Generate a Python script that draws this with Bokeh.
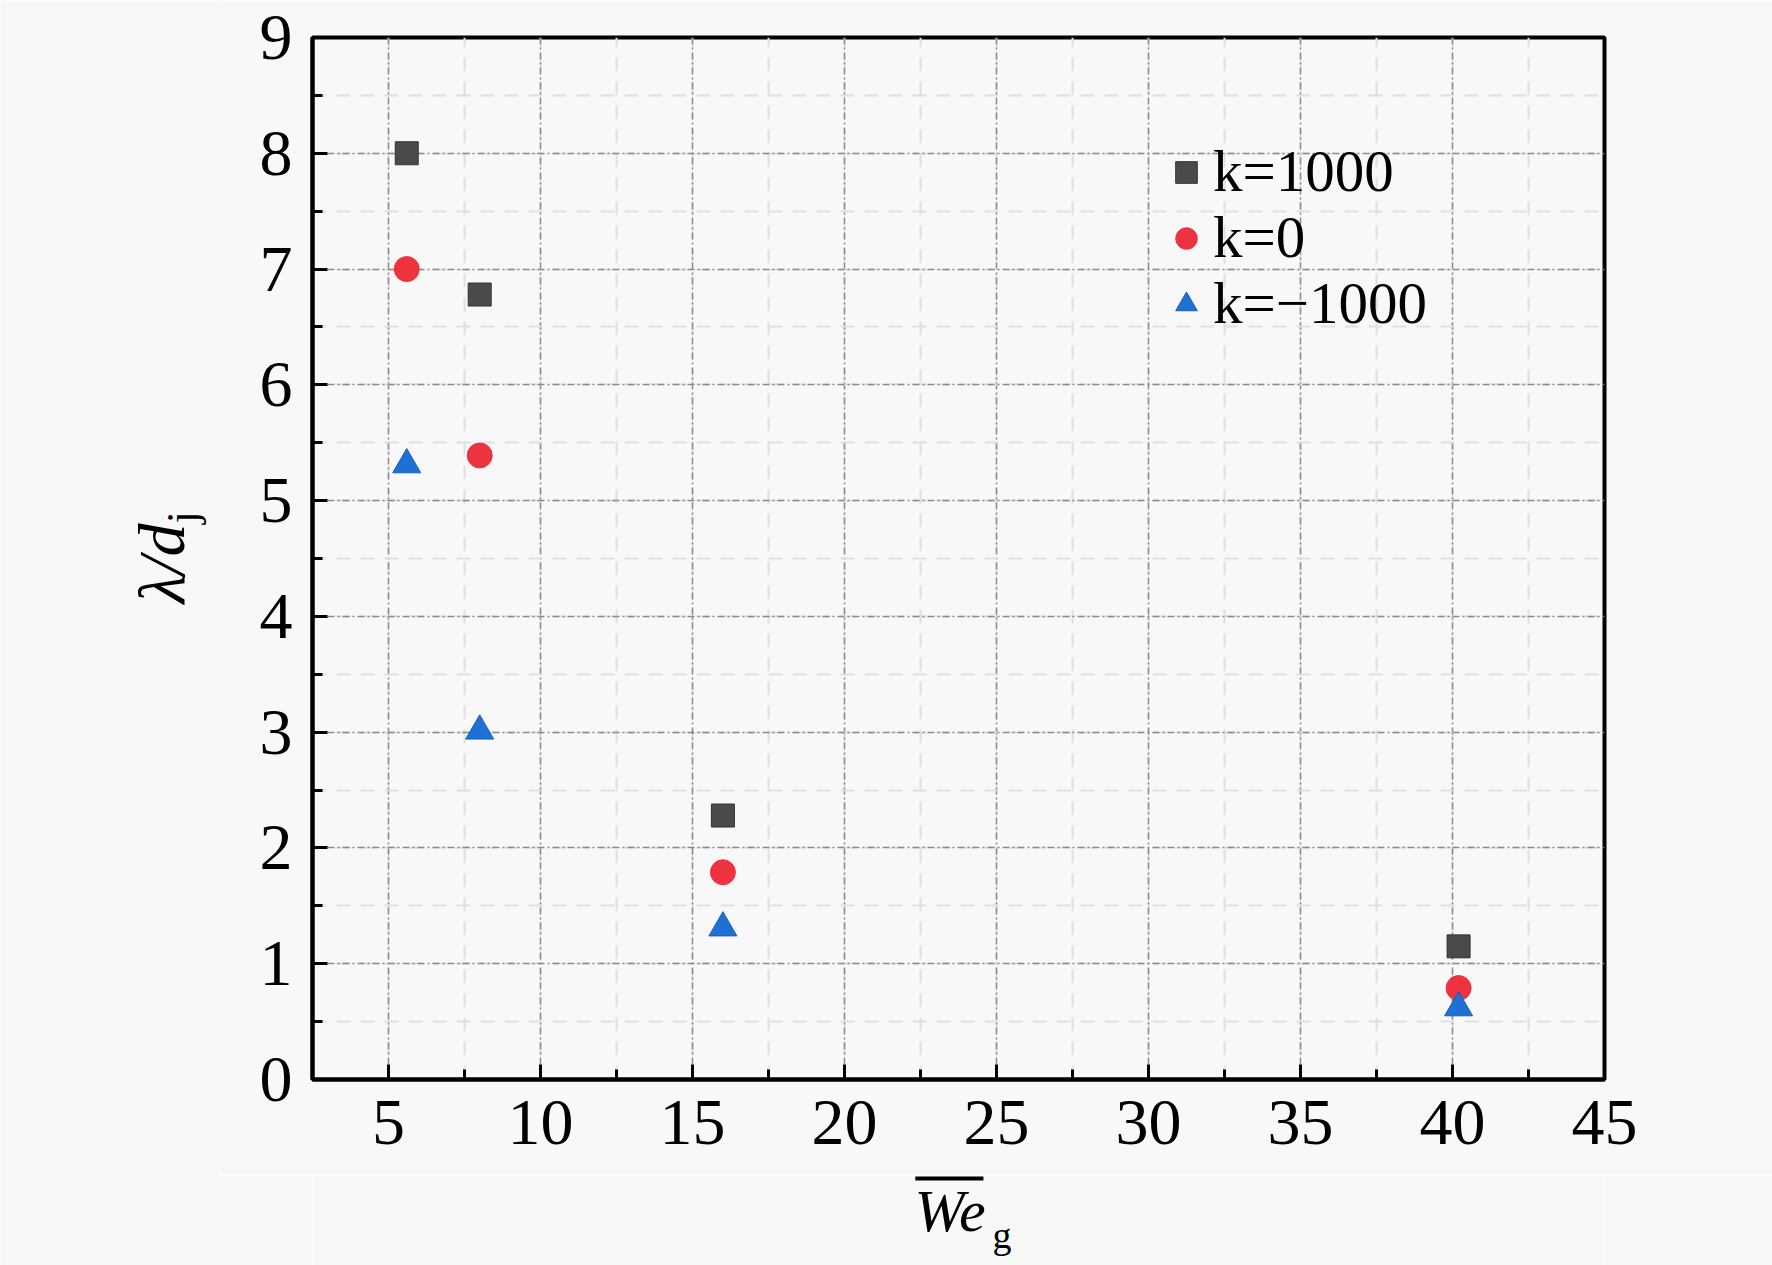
import math
from bokeh.plotting import figure
from bokeh.layouts import row, column
from bokeh.models import Legend, LegendItem, SingleIntervalTicker, Range1d
from bokeh.core.properties import value
from bokeh.embed import file_html
from bokeh.resources import INLINE

# ---- data ----
we_g = [5.6, 8.0, 16.0, 40.2]
k_pos = [8.0, 6.78, 2.28, 1.15]      # k = 1000
k_zero = [7.0, 5.39, 1.79, 0.79]     # k = 0
k_neg = [5.31, 3.01, 1.31, 0.62]     # k = -1000
series_labels = ["k=1000", "k=0", "k=\u22121000"]
x_ticks_interval = 5
y_ticks_interval = 1

FONT = "Liberation Serif"
BG = "#f8f8f8"
TICK_FS = "66px"
LEGEND_FS = "59px"

xr = Range1d(2.5, 45)

# ---------------- main chart ----------------
p = figure(width=1552, height=1175, output_backend="svg", toolbar_location=None,
           title=None, x_range=xr, y_range=Range1d(0, 9),
           min_border_left=92, min_border_right=168, min_border_top=37,
           min_border_bottom=96, background_fill_color=BG, border_fill_color=BG)

p.outline_line_color = "black"
p.outline_line_width = 4

p.xaxis.ticker = SingleIntervalTicker(interval=x_ticks_interval, num_minor_ticks=2)
p.yaxis.ticker = SingleIntervalTicker(interval=y_ticks_interval, num_minor_ticks=2)

for ax in (p.xaxis, p.yaxis):
    ax.axis_line_width = 4
    ax.axis_line_color = "black"
    ax.major_tick_in = 15
    ax.major_tick_out = 0
    ax.minor_tick_in = 10
    ax.minor_tick_out = 0
    ax.major_tick_line_width = 3
    ax.minor_tick_line_width = 3
    ax.major_tick_line_color = "black"
    ax.minor_tick_line_color = "black"
    ax.major_label_text_font = FONT
    ax.major_label_text_font_size = TICK_FS
    ax.major_label_text_color = "black"
p.xaxis.major_label_standoff = 21
p.yaxis.major_label_standoff = 20

for g in (p.xgrid, p.ygrid):
    g.grid_line_color = "#8a8a8a"
    g.grid_line_width = 1.5
    g.grid_line_dash = "7 3 2 3"
    g.minor_grid_line_color = "#e0e0e0"
    g.minor_grid_line_width = 2
    g.minor_grid_line_dash = "14 10"

r1 = p.scatter(we_g, k_pos, marker="square", size=23, fill_color="#4a4a4a",
               line_color="#333333", line_width=1)
r2 = p.scatter(we_g, k_zero, marker="circle", size=25, fill_color="#ee3340",
               line_color="#ee3340", line_width=1)
r3 = p.scatter(we_g, k_neg, marker="triangle", size=28, fill_color="#1f70d4",
               line_color="#1a5fb8", line_width=1)

# one legend box per entry, so the rows can sit as close as in the reference
legend_rows = [(series_labels[0], r1, 873), (series_labels[1], r2, 807),
               (series_labels[2], r3, 741)]
for lab, rend, ypos in legend_rows:
    lg = Legend(items=[LegendItem(label=lab, renderers=[rend])],
                location=(847, ypos), orientation="vertical",
                label_text_font=FONT, label_text_font_size=LEGEND_FS,
                label_text_color="black",
                glyph_width=54, glyph_height=60, label_standoff=0,
                spacing=0, padding=0, margin=0,
                border_line_color=None, background_fill_alpha=0)
    p.add_layout(lg)


def text_panel(w, h, x_range):
    f = figure(width=w, height=h, output_backend="svg", toolbar_location=None,
               title=None, x_range=x_range, y_range=Range1d(0, h),
               x_axis_type=None, y_axis_type=None, min_border=0,
               background_fill_color=BG, border_fill_color=BG)
    f.outline_line_color = None
    f.grid.visible = False
    return f


# ---------------- x-axis title: overline We, subscript g ----------------
# (this panel shares the x range of the chart, so its x positions are in We_g units)
xl = text_panel(1552, 90, xr)
xl.text(x=[22.3], y=[55], text=["We"], text_font=value(FONT),
        text_font_style="italic", text_font_size=value("60px"),
        text_align="left", text_baseline="middle", text_color="black")
xl.text(x=[24.87], y=[31], text=["g"], text_font=value(FONT),
        text_font_size=value("38px"), text_align="left",
        text_baseline="middle", text_color="black")
xl.segment(x0=[22.33], y0=[87], x1=[24.57], y1=[87], line_color="black",
           line_width=4)

# ---------------- y-axis title: lambda / d_j ----------------
yl = text_panel(220, 1265, Range1d(0, 220))
yl.text(x=[161], y=[662], text=["\u03bb/d"], text_font=value(FONT),
        text_font_style="italic", text_font_size=value("66px"),
        text_align="left", text_baseline="middle", angle=math.pi / 2,
        text_color="black")
yl.text(x=[182], y=[742], text=["j"], text_font=value(FONT),
        text_font_size=value("44px"), text_align="left",
        text_baseline="middle", angle=math.pi / 2, text_color="black")

layout = row(yl, column(p, xl, spacing=0), spacing=0)

open("out.html", "w").write(file_html(layout, INLINE))
